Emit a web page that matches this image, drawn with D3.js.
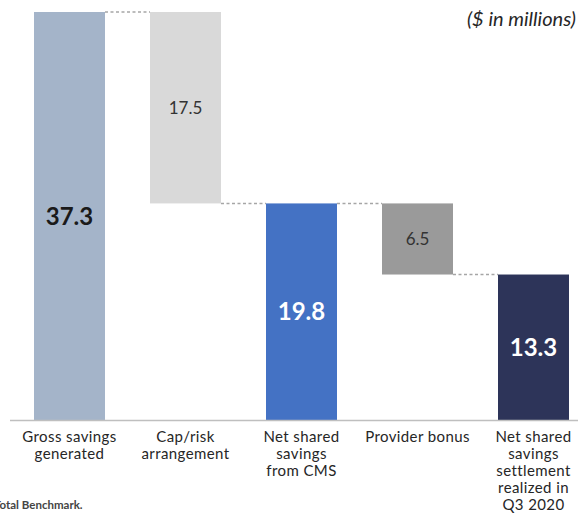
<!DOCTYPE html>
<html><head><meta charset="utf-8">
<script src="https://cdn.jsdelivr.net/npm/d3@7"></script>
<style>
html,body{margin:0;padding:0;background:#fff;}
svg{display:block;font-family:Lato,"Open Sans",sans-serif;}
</style></head>
<body>
<svg id="chart" width="582" height="519"></svg>
<script>
const categories = [
  ["Gross savings","generated"],
  ["Cap/risk","arrangement"],
  ["Net shared","savings","from CMS"],
  ["Provider bonus"],
  ["Net shared","savings","settlement","realized in","Q3 2020"]
];
const values = [37.3, 17.5, 19.8, 6.5, 13.3];
const kinds = ["total","decrease","total","decrease","total"];
const colors = ["#a4b4c9","#d9d9d9","#4472c4","#9a9a9a","#2d3459"];
const labelColors = ["#1a1a1a","#333333","#ffffff","#333333","#ffffff"];
const unitNote = "($ in millions)";
const footnote = "Total Benchmark.";

const svg = d3.select("#chart");
const W = 582, H = 519;
const baseY = 420, topY = 12;

// waterfall spans
let running = 0;
const bars = values.map((v,i)=>{
  let y0, y1;
  if (kinds[i]==="total"){ y0 = 0; y1 = v; running = v; }
  else { y1 = running; y0 = running - v; running = y0; }
  return {i, v, y0, y1};
});

const x = d3.scaleBand().domain(d3.range(values.length))
  .range([34, 569]).paddingInner(0.388).paddingOuter(0);
const y = d3.scaleLinear().domain([0, 37.3]).range([baseY, topY]);

// connectors
for (let i=0;i<bars.length-1;i++){
  const a = bars[i];
  const ly = kinds[i]==="decrease" ? a.y0 : a.y1;
  svg.append("line")
    .attr("x1", x(i)+x.bandwidth()).attr("x2", x(i+1))
    .attr("y1", y(ly)).attr("y2", y(ly))
    .attr("stroke","#a6a6a6").attr("stroke-width",1.5)
    .attr("stroke-dasharray","3,2.5");
}

svg.selectAll("rect.bar").data(bars).enter().append("rect")
  .attr("class","bar")
  .attr("x", d=>x(d.i)).attr("width", x.bandwidth())
  .attr("y", d=>y(d.y1)).attr("height", d=>y(d.y0)-y(d.y1))
  .attr("fill", d=>colors[d.i]);

svg.selectAll("text.val").data(bars).enter().append("text")
  .attr("class","val")
  .attr("x", d=>x(d.i)+x.bandwidth()/2)
  .attr("y", d=>(y(d.y0)+y(d.y1))/2)
  .attr("dy","0.36em")
  .attr("text-anchor","middle")
  .attr("fill", d=>labelColors[d.i])
  .attr("font-size", d=>kinds[d.i]==="total"?24:17)
  .attr("font-weight", d=>kinds[d.i]==="total"?700:400)
  .text(d=>d.v.toFixed(1));

// baseline
svg.append("line")
  .attr("x1", 10).attr("x2", 578)
  .attr("y1", y(0)+0.5).attr("y2", y(0)+0.5)
  .attr("stroke","#bfbfbf").attr("stroke-width",1.5);

// category labels
const cat = svg.selectAll("text.cat").data(categories).enter().append("text")
  .attr("class","cat")
  .attr("x",(d,i)=>x(i)+x.bandwidth()/2)
  .attr("y", 442)
  .attr("text-anchor","middle")
  .attr("font-size",15)
  .attr("letter-spacing",0.4)
  .attr("fill","#262626");
cat.selectAll("tspan").data(d=>d).enter().append("tspan")
  .attr("x", function(){ return d3.select(this.parentNode).attr("x"); })
  .attr("dy",(d,j)=>j===0?0:17)
  .text(d=>d);

svg.append("text")
  .attr("x", 576).attr("y", 26)
  .attr("text-anchor","end")
  .attr("font-size",20).attr("font-style","italic")
  .attr("fill","#262626")
  .text(unitNote);

svg.append("text")
  .attr("x", -6).attr("y", 509)
  .attr("font-size",11.5).attr("font-weight",700).attr("fill","#444")
  .text(footnote);
</script>
</body></html>
